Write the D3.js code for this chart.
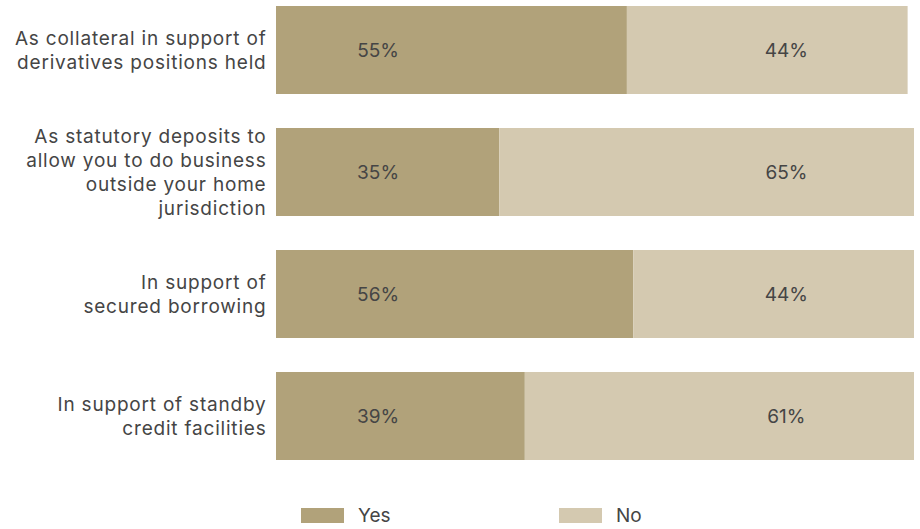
<!DOCTYPE html>
<html>
<head>
<meta charset="utf-8">
<script src="https://cdn.jsdelivr.net/npm/d3@7"></script>
<style>
  html, body { margin: 0; padding: 0; background: #fff; }
  svg { display: block; }
</style>
</head>
<body>
<svg id="chart" width="920" height="529"></svg>
<script>
// Category labels (each entry is the list of wrapped lines)
const categories = [
  ["As collateral in support of", "derivatives positions held"],
  ["As statutory deposits to", "allow you to do business", "outside your home", "jurisdiction"],
  ["In support of", "secured borrowing"],
  ["In support of standby", "credit facilities"]
];
const yesValues = [55, 35, 56, 39];
const noValues = [44, 65, 44, 61];
const seriesNames = ["Yes", "No"];
const seriesColors = ["#b1a27a", "#d4c9b0"];

const svg = d3.select("#chart");
const textColor = "#454545";
const font = "Inter, 'Open Sans', Roboto, sans-serif";

const x = d3.scaleLinear().domain([0, 100]).range([276, 914]);
const y = d3.scaleBand()
  .domain(d3.range(categories.length))
  .range([6, 460])
  .paddingInner(34 / 122)
  .paddingOuter(0);

const rows = categories.map((c, i) => ({ i, lines: c, yes: yesValues[i], no: noValues[i] }));

const g = svg.append("g");

// Yes segments
g.selectAll("rect.yes").data(rows).join("rect")
  .attr("class", "yes")
  .attr("x", d => x(0))
  .attr("y", d => y(d.i))
  .attr("width", d => x(d.yes) - x(0))
  .attr("height", y.bandwidth())
  .attr("fill", seriesColors[0]);

// No segments stacked after Yes
g.selectAll("rect.no").data(rows).join("rect")
  .attr("class", "no")
  .attr("x", d => x(d.yes))
  .attr("y", d => y(d.i))
  .attr("width", d => x(d.yes + d.no) - x(d.yes))
  .attr("height", y.bandwidth())
  .attr("fill", seriesColors[1]);

// Value labels at fixed positions along each bar
g.selectAll("text.yesLabel").data(rows).join("text")
  .attr("x", x(16))
  .attr("y", d => y(d.i) + y.bandwidth() / 2)
  .attr("dy", "0.35em")
  .attr("text-anchor", "middle")
  .attr("font-family", font)
  .attr("font-size", 19)
  .attr("fill", textColor)
  .text(d => d.yes + "%");

g.selectAll("text.noLabel").data(rows).join("text")
  .attr("x", x(80))
  .attr("y", d => y(d.i) + y.bandwidth() / 2)
  .attr("dy", "0.35em")
  .attr("text-anchor", "middle")
  .attr("font-family", font)
  .attr("font-size", 19)
  .attr("fill", textColor)
  .text(d => d.no + "%");

// Category labels, right aligned and vertically centred on each bar
const lineH = 24;
const cat = g.selectAll("text.cat").data(rows).join("text")
  .attr("class", "cat")
  .attr("text-anchor", "end")
  .attr("font-family", font)
  .attr("font-size", 19)
  .attr("letter-spacing", 0.8)
  .attr("fill", textColor);
cat.each(function(d) {
  const t = d3.select(this);
  const cy = y(d.i) + y.bandwidth() / 2;
  const n = d.lines.length;
  d.lines.forEach((line, k) => {
    t.append("tspan")
      .attr("x", 266.5)
      .attr("y", cy + (k - (n - 1) / 2) * lineH)
      .attr("dy", "0.35em")
      .text(line);
  });
});

// Legend
const legendX = [301, 559];
const legend = svg.append("g").selectAll("g").data(seriesNames).join("g")
  .attr("transform", (d, i) => `translate(${legendX[i]},508)`);
legend.append("rect")
  .attr("width", 43).attr("height", 15)
  .attr("fill", (d, i) => seriesColors[i]);
legend.append("text")
  .attr("x", 57).attr("y", 7.5).attr("dy", "0.35em")
  .attr("font-family", font)
  .attr("font-size", 19)
  .attr("fill", textColor)
  .text(d => d);
</script>
</body>
</html>
